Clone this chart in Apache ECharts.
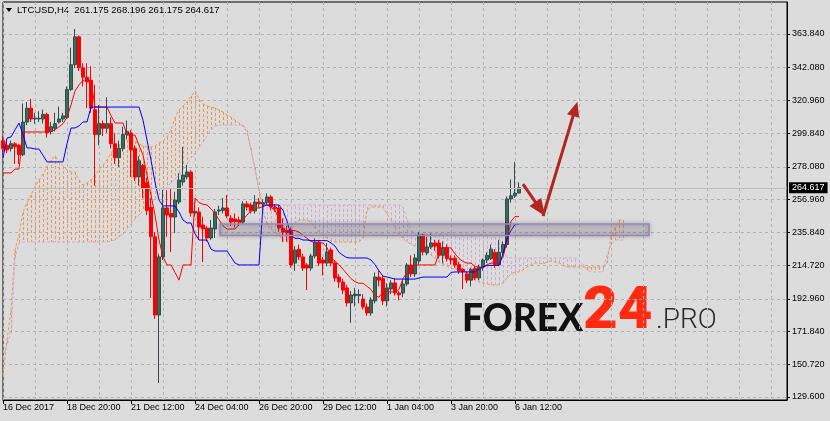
<!DOCTYPE html>
<html><head><meta charset="utf-8">
<script src="https://cdn.jsdelivr.net/npm/echarts@6/dist/echarts.min.js"></script>
<style>html,body{margin:0;padding:0;background:#dcdcdc;}#c{width:830px;height:421px;}</style>
</head><body><div id="c"></div>
<script>
// ---------- data ----------
const symbolName = 'LTCUSD,H4';
const xTickLabels = ['16 Dec 2017','18 Dec 20:00','21 Dec 12:00','24 Dec 04:00','26 Dec 20:00','29 Dec 12:00','1 Jan 04:00','3 Jan 20:00','6 Jan 12:00'];
const yTickValues = [129.6,150.72,171.84,192.96,214.72,235.84,256.96,278.08,299.84,320.96,342.08,363.84];

const opens = [295,292,290,293,292,286,307,316,309,309,
309,312,301,303,307,309,310,328,344,362,
342,336,334,315,299,306,303,306,293,284,
290,299,300,290,271.6,279,268,252,233,182.5,
220,251.6,248,245.7,255.4,268.3,271.6,274.8,248.3,249,
240.6,238.6,232.2,238,249.6,250,251.6,245,244.5,243.8,
242.5,254.2,253.5,249.6,255.4,254.2,255,258.7,252.2,251.6,
238.6,237,237.4,216,225,220,214.8,212.8,220.6,229.6,
218,216,224.5,216,207,203.8,200,190.3,195,195,
192.8,187.7,183.8,191.6,207,206,191.6,199.3,203.2,196.7,
196.7,202.5,214.8,209,217.4,234.2,222.6,226.4,229,229,
221,226,219,219,215,212,209,205,212.5,206.4,
213.5,218,219,223,215,223,228,257.4,259.4,261.175];
const highs = [298,296,295,294,293,319,320,322,313,314,
315,313,307,313,317,313,330,355,367,363,
345,345,343,331,318,308,323,310,300,295,
304,308,302,292,285,280,271,258,236,222,
263.2,263,264.5,262,274,290.9,279.3,276,255,252,
246,240,243.8,251,253,258,259.9,247,248,246,
256,256,255,259.9,258,257,261,260,254,253,
245,240,239,227,228,222,216,222,232,231,
220,229,226,218,209,206,202,198,200,199,
196,190,194,210,211,208,203,205,206,198,
205,216,221,222,236,235,233,235,231,231,
230,228,221,221,217,213,211,213,214,215,
219,223,228,225,231,230,259,270,281.4,268.196];
const lows = [286,287,288,280,280,285,305,307,306,307,
306,297,299,301,306,307,309,327,342,340,
330,316,313,266,292,298,300,290,280,278,
288,296,271.6,269,266,258,247,193.5,180,138.6,
218,232.9,223.2,235.4,254,266,270,246,246,230.9,
216.7,230,231,232.2,247,248,245,240,239,240,
241,250,248,248,252,252,254,250,249,236,
229.6,230,213,211,218,211,198.6,211,219,214,
208,214,214,204,200,196,188,177.4,188,190,
186,182,182,190,201,189,188,196,195,192,
194,201,207,207,215,221,221,225,224,219,
216,217,215,213,209,199.3,203,201,205,205,
211,216,218,213,214,221,226,255,258,261.175];
const closes = [290,289,293,291,286,307,316,309,309.5,309.5,
312,300,304,306,309,311,328,344,362,342,
336,333,316,299,306,303,306,293,284,290,
299,301,289,271.5,282,264.5,250,233,182.5,220,
251.6,247,245.7,256.7,269.6,272.8,274.8,248.3,249.5,239.3,
238,232.2,238.6,249,250.3,251.6,246.4,242.5,242.8,242.5,
254.2,252.2,249.6,255.4,254.2,255,258.7,252.2,251,238.6,
236,235.5,214.8,224.5,220,212.8,212.8,220.6,229.6,216,
216,223.2,216,206.4,203.8,198.6,190.3,195.4,196,195.8,
187.7,183.8,192.2,207,205,191.6,200,203.2,196.7,195.5,
202.5,214.8,209,219.3,234.2,223.2,226.4,229,227,221,
226,219,218,214.8,211,210.5,205,212,206.4,213.5,
218,221,225,215,223,228,257.4,259.4,261.175,264.617];

const tenkan = [274.2,274.2,274.2,276.7,276.7,300.6,300.6,300.6,300.6,300.6,
300.6,300.6,301,302,304,306,310,318,327,331,
334,334,334,316.7,316.7,316.7,316.7,311,306.4,306.4,
306.4,298.6,298.6,298.6,292,285.8,272.9,260,247,231,
220,214.8,214.8,210,205,214.8,214.8,214.8,258,255,
254,253.5,251,248,244,240,238,238,238,241,
244,247,250,251.6,251.6,252.5,253.5,252,250,245,
237,237,237,237,236,234,232,230,229,229,
229,226,220,217,215,212,209,206,204,203,
203,201,199,195,194,197.4,197.4,197.4,197.4,199,
206,210,213,214.8,214.8,214.8,214.8,214.8,214.8,222.5,
225.8,225.8,225.8,222,219,217,216,216,214,213,
213,215,216,216,216,220,230,243,246,246];
const kijun = [284,296.7,297.4,302,306.4,299,290.3,290.3,289.6,289.6,
285.5,281.3,281.3,281.3,281.3,281.3,293,303.2,303.2,304.5,
307.1,307.1,316.7,316.7,316.7,316.7,316.7,316.7,316.7,316.7,
316.7,316.7,316.7,316.7,316.7,308.3,295.4,282.5,268.3,256.7,
252.9,252.9,252.9,252.9,249,243.8,241.9,241.9,235,230.9,
230.9,230.9,225,223.8,223.8,223.8,223.8,220,216,214.8,
214.8,214.8,214.8,214.8,214.8,253.5,253.5,253.5,253.5,253.5,
250,243,234,232,232,230.9,230.9,230.5,230.5,230.5,
230.5,230.5,229,227,223,221,219.5,219.3,219.3,219.3,
219.3,219.3,218,215,211,207.6,207,206.4,205.7,205.7,
205.7,205.7,205.7,205.7,206.4,207,207,207,207,207,
207,207,210,210.3,210.3,210.3,210.3,210.3,210.3,212,
213.5,214.5,214.5,214.5,214.5,222,232,237,241,241];
const spanA = [143.8,166.4,185.7,224.5,234.1,249.0,254.8,260.0,265.1,269.6,
273.5,278.0,282.5,285.1,281.2,278.7,276.1,274.8,274.8,269.6,
266.4,267.7,269.6,272.9,276.1,279.3,282.5,287.1,290.3,292.2,
294.2,295.4,295.4,294.8,292.9,291.6,290.9,290.9,291.6,293.5,
294.8,297.4,301.9,309.6,314.8,317.4,320.0,323.8,327.1,321.9,
318.7,317.4,316.7,316.1,314.8,313.5,311.6,310.3,308.3,306.4,
304.5,300.6,289.0,277.4,263.2,250.3,240.6,238.0,236.1,234.1,
230.3,229.6,237.4,241.2,243.8,243.8,243.8,242.5,238.7,236.1,
234.1,232.2,230.3,229.6,229.6,229.6,229.6,229.6,229.6,229.6,
232.2,250.3,252.2,252.2,252.2,252.2,247.7,243.8,238.7,234.8,
232.2,229.6,228.3,227.0,225.7,224.5,223.2,221.2,219.3,216.7,
215.4,214.1,212.8,212.2,211.6,210.3,208.3,206.4,205.1,203.8,
203.2,202.5,201.9,201.9,201.9,203.2,206.4,209.0,210.3,210.3,
211.6,213.5,214.8,216.1,216.1,215.4,216.7,217.4,216.7,216.1,
214.8,213.5,213.5,213.5,213.5,213.5,213.5,213.5,213.5,213.5,
213.5,216.1,232.8,238.7,243.8,243.8];
const spanB = [154.8,163.2,170.9,219.3,229.0,229.6,229.6,229.6,229.6,229.6,
229.6,229.6,229.6,229.6,229.6,229.6,229.6,229.6,229.6,229.6,
229.6,229.6,229.6,229.6,229.6,229.6,229.6,230.3,230.9,232.8,
234.8,238.0,241.2,244.5,247.0,249.6,252.2,254.8,257.4,260.0,
262.5,265.1,267.7,270.3,272.9,276.1,280.0,283.8,287.1,290.3,
294.2,298.0,301.9,304.5,305.1,305.1,305.1,305.1,305.1,305.1,
305.1,301.9,290.3,276.1,263.2,255.4,253.5,253.5,253.5,253.5,
253.5,253.5,253.5,253.5,253.5,253.5,253.5,253.5,253.5,253.5,
253.5,253.5,253.5,253.5,253.5,253.5,253.5,253.5,253.5,253.5,
253.5,253.5,253.5,253.5,253.5,253.5,253.5,253.5,253.5,253.5,
252.2,243.8,237.4,234.8,234.8,234.8,234.8,234.8,234.8,234.8,
234.8,234.8,234.8,234.1,234.1,234.1,234.1,234.1,234.1,234.1,
234.1,234.1,234.1,234.1,234.1,224.5,219.9,219.3,219.3,219.3,
219.3,219.3,219.3,219.3,219.3,219.3,219.3,219.3,219.3,219.3,
219.3,219.3,219.3,219.3,218.0,214.8,211.6,210.3,210.3,210.3,
210.3,221.2,227.7,230.9,230.9,230.9];

// annotation drawn by the analyst (bar index, price)
const zoneBox = {from: 54.25, to: 161.5, top: 241.2, bottom: 233.8};
const arrowFrom = [[130, 267.0], [135, 246.4]];
const arrowTo   = [[135.5, 246.4], [143.6, 320.2]];

// ---------- chart ----------
const BAR_SLOTS = 197;
const categories = [];
for (let i = 0; i < BAR_SLOTS; i++) categories.push(String(i));
const last = closes.length - 1;
const fmt = v => v.toFixed(3);

function px(api, f, v) {
  const k = Math.floor(f);
  const a = api.coord([k, v]), b = api.coord([k + 1, v]);
  return [a[0] + (b[0] - a[0]) * (f - k), a[1]];
}

const chart = echarts.init(document.getElementById('c'), null, {renderer: 'canvas'});
const FONT = 'Liberation Sans, Arial, sans-serif';
const gridDash = {color: '#b2b2b2', width: 1, type: [3, 3]};
const COL_A = '#f0964a', COL_B = '#d0aad0';

chart.setOption({
  animation: false,
  backgroundColor: '#dcdcdc',
  grid: {left: 3, right: 43, top: 2, bottom: 21, show: true, borderColor: '#000', borderWidth: 1,
         backgroundColor: '#dcdcdc', containLabel: false, outerBoundsMode: 'none'},
  xAxis: {
    type: 'category', data: categories, boundaryGap: false,
    axisLine: {show: true, lineStyle: {color: '#000', width: 1}},
    axisTick: {show: true, length: 4, interval: (idx) => idx % 16 === 0 && idx <= 128, lineStyle: {color: '#000'}},
    axisLabel: {show: true, interval: (idx) => idx % 16 === 0 && idx <= 128, align: 'left', margin: 3,
      fontSize: 9, fontFamily: FONT, color: '#000',
      formatter: (val, idx) => xTickLabels[Math.round(Number(val) / 16)] || ''},
    splitLine: {show: true, interval: (idx) => idx % 8 === 0, lineStyle: gridDash}
  },
  yAxis: {
    type: 'value', position: 'right', min: 127.664, max: 384.49, scale: true,
    axisLine: {show: true, lineStyle: {color: '#000'}},
    axisTick: {show: true, length: 3, customValues: yTickValues, lineStyle: {color: '#000'}},
    axisLabel: {show: true, customValues: yTickValues, margin: 5, fontSize: 9, fontFamily: FONT,
      color: '#000', formatter: v => fmt(v)},
    splitLine: {show: true, lineStyle: gridDash}
  },
  graphic: [
    {type: 'polygon', shape: {points: [[6, 8], [12, 8], [9, 12]]}, style: {fill: '#000'}},
    {type: 'text', left: 17, top: 5, style: {
      text: symbolName + '  ' + [opens[last], highs[last], lows[last], closes[last]].map(fmt).join(' '),
      font: '9.5px ' + FONT, fill: '#000'}},
    {type: 'text', left: 462, top: 301, z: 0, style: {text: 'FOREX', font: '900 37px Lato, Roboto', fill: '#111'}},
    {type: 'text', left: 583, top: 283, z: 0, style: {text: '24', font: '900 60px Roboto', fill: '#ff2a10'}},
    {type: 'text', left: 656, top: 307, z: 0, style: {text: '.PRO', font: '300 28px Roboto', fill: '#2a2a2a'}}
  ],
  series: [
    { // kumo hatch
      type: 'custom', z: 1, silent: true, clip: true,
      data: spanA.map((a, i) => [i, a, spanB[i]]),
      encode: {x: 0, y: [1, 2]},
      renderItem: (params, api) => {
        const i = api.value(0), a = api.value(1), b = api.value(2);
        const p1 = api.coord([i, a]), p2 = api.coord([i, b]);
        const x = Math.round(p1[0]) + 0.5;
        return {type: 'line', shape: {x1: x, y1: Math.round(p1[1]), x2: x, y2: Math.round(p2[1])},
          style: {stroke: a >= b ? COL_A : COL_B, lineWidth: 1, lineDash: [3, 2], opacity: 1}};
      }
    },
    {type: 'line', z: 2, data: spanA, symbol: 'none', silent: true,
     lineStyle: {color: COL_A, width: 1, type: [3, 2]}},
    {type: 'line', z: 2, data: spanB, symbol: 'none', silent: true,
     lineStyle: {color: COL_B, width: 1, type: [3, 2]}},
    {
      type: 'candlestick', z: 3, barWidth: 3,
      data: opens.map((o, i) => [o, closes[i], lows[i], highs[i]]),
      itemStyle: {color: '#3b6b5b', color0: '#ff0000', borderColor: '#2f4f4f', borderColor0: '#ff0000', borderWidth: 1},
      markLine: {
        silent: true, symbol: ['none', 'none'], animation: false,
        lineStyle: {color: '#bcbcbc', width: 1, type: 'solid'},
        label: {show: true, position: 'end', distance: 2, formatter: fmt(closes[last]),
          backgroundColor: '#000', color: '#fff', fontSize: 9, fontFamily: FONT, padding: [1, 3, 1, 3]},
        data: [{yAxis: closes[last]}]
      }
    },
    {type: 'line', z: 4, data: tenkan, symbol: 'none', silent: true, lineStyle: {color: '#ff0000', width: 1}},
    {type: 'line', z: 4, data: kijun, symbol: 'none', silent: true, lineStyle: {color: '#0000ff', width: 1}},
    { // support zone
      type: 'custom', z: 5, silent: true, clip: false,
      data: [[Math.round(zoneBox.from), zoneBox.top]],
      renderItem: (params, api) => {
        const tl = px(api, zoneBox.from, zoneBox.top), br = px(api, zoneBox.to, zoneBox.bottom);
        return {type: 'rect', shape: {x: tl[0], y: tl[1], width: br[0] - tl[0], height: br[1] - tl[1]},
          style: {fill: 'rgba(105,95,135,0.17)', stroke: '#9c86b6', lineWidth: 1.6,
                  shadowBlur: 4, shadowColor: 'rgba(0,0,0,0.35)'}};
      }
    },
    { // forecast arrows
      type: 'custom', z: 6, silent: true, clip: false,
      data: arrowFrom.map(p => [Math.round(p[0]), p[1]]),
      renderItem: (params, api) => {
        const f = arrowFrom[params.dataIndex], t = arrowTo[params.dataIndex];
        const p0 = px(api, f[0], f[1]), p1 = px(api, t[0], t[1]);
        const dx = p1[0] - p0[0], dy = p1[1] - p0[1], len = Math.hypot(dx, dy);
        const ux = dx / len, uy = dy / len;
        const hl = params.dataIndex === 0 ? 17 : 15, hw = hl * 0.42;
        const bx = p1[0] - ux * hl, by = p1[1] - uy * hl;
        return {type: 'group', children: [
          {type: 'line', shape: {x1: p0[0], y1: p0[1], x2: bx + ux * 2, y2: by + uy * 2},
            style: {stroke: '#b3261e', lineWidth: 3}},
          {type: 'polygon', shape: {points: [[p1[0], p1[1]], [bx - uy * hw, by + ux * hw], [bx + uy * hw, by - ux * hw]]},
            style: {fill: '#b3261e'}}
        ]};
      }
    }
  ]
});
</script></body></html>
